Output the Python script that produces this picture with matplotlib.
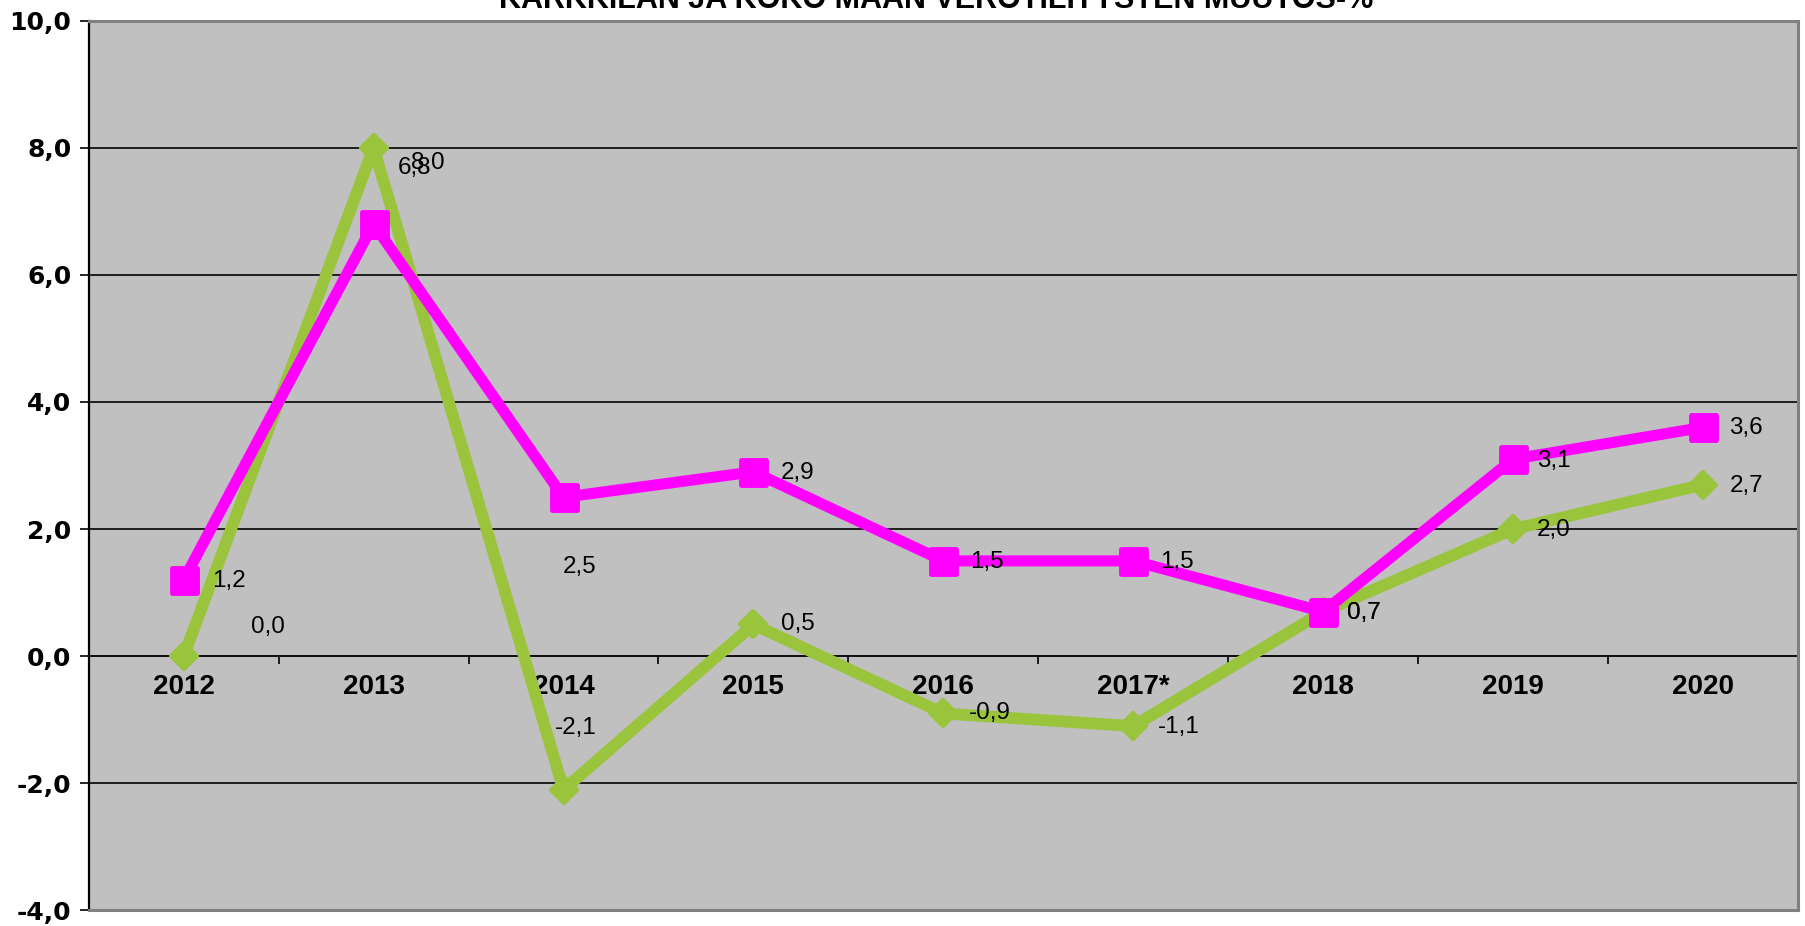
import matplotlib.pyplot as plt
from matplotlib.markers import MarkerStyle
from matplotlib.ticker import FixedLocator, FuncFormatter

years = ['2012', '2013', '2014', '2015', '2016', '2017*', '2018', '2019', '2020']
karkkila = [1.2, 6.8, 2.5, 2.9, 1.5, 1.5, 0.7, 3.1, 3.6]
koko_maa = [0.0, 8.0, -2.1, 0.5, -0.9, -1.1, 0.7, 2.0, 2.7]

title = 'KARKKILAN JA KOKO MAAN VEROTILITYSTEN MUUTOS-%'

# label offsets (pixels, right / down) as Excel placed them
off_karkkila = [(45, 1), (41, -56), (16, 70), (44, 1), (44, 1), (44, 1), (41, 1), (41, 2), (43, 1)]
off_koko = [(84, -29), (54, 15), (12, -62), (44, 0), (46, 0), (45, 1), (41, 1), (40, 1), (43, 1)]

MAGENTA = '#FF00FF'
GREEN = '#99C43C'
BG = '#C0C0C0'
FRAME = '#808080'


def fmt(v):
    return f'{v:.1f}'.replace('.', ',')


fig = plt.figure(figsize=(18.06, 9.26), dpi=100)
ax = fig.add_axes([0.0491, 0.01674, 0.9465, 0.9611])
ax.set_facecolor(BG)

x = list(range(len(years)))
ymin, ymax = -4, 10
ax.set_xlim(-0.5, len(years) - 0.5)
ax.set_ylim(ymin, ymax)

ax.yaxis.set_major_locator(FixedLocator(range(ymin, ymax + 1, 2)))
ax.yaxis.set_major_formatter(FuncFormatter(lambda v, p: fmt(v)))
ax.grid(axis='y', color='#111111', linewidth=1.3, zorder=0)
ax.set_axisbelow(True)
ax.tick_params(axis='y', direction='out', length=6.5, width=1.2, pad=6,
               labelsize=18, colors='black')
for lab in ax.get_yticklabels():
    lab.set_fontfamily('DejaVu Sans')
    lab.set_fontweight('bold')

ax.tick_params(axis='x', bottom=False, labelbottom=False)

for s in ['top', 'right', 'bottom']:
    ax.spines[s].set_color(FRAME)
    ax.spines[s].set_linewidth(2.2)
ax.spines['left'].set_color('black')
ax.spines['left'].set_linewidth(1.6)

# category axis sitting on y = 0
sec = ax.secondary_xaxis((0 - ymin) / (ymax - ymin))
sec.set_xticks(x)
sec.set_xticklabels(years)
sec.set_xticks([i + 0.5 for i in x[:-1]], minor=True)
sec.tick_params(which='major', length=0, pad=13, labelsize=20)
sec.tick_params(which='minor', direction='out', length=5.5, width=1.2, color='black')
sec.spines['bottom'].set_color('#111111')
sec.spines['bottom'].set_linewidth(1.3)
for lab in sec.get_xticklabels():
    lab.set_fontfamily('Liberation Sans')
    lab.set_fontweight('bold')

ax.plot(x, koko_maa, color=GREEN, linewidth=8.5, solid_joinstyle='round',
        marker=MarkerStyle('D', joinstyle='round'), markersize=13.5,
        markerfacecolor=GREEN, markeredgecolor=GREEN, markeredgewidth=3, zorder=3)
ax.plot(x, karkkila, color=MAGENTA, linewidth=8, solid_joinstyle='round',
        marker=MarkerStyle('s', joinstyle='round'), markersize=18,
        markerfacecolor=MAGENTA, markeredgecolor=MAGENTA, markeredgewidth=3.5, zorder=4)

for xi, v, (dx, dy) in zip(x, karkkila, off_karkkila):
    ax.annotate(fmt(v), (xi, v), xytext=(dx, -dy), textcoords='offset pixels',
                ha='center', va='center', fontsize=17.5, family='Liberation Sans',
                color='black', zorder=5)
for xi, v, (dx, dy) in zip(x, koko_maa, off_koko):
    ax.annotate(fmt(v), (xi, v), xytext=(dx, -dy), textcoords='offset pixels',
                ha='center', va='center', fontsize=17.5, family='Liberation Sans',
                color='black', zorder=5)

fig.text(0.5186, 0.991, title, ha='center', va='baseline', fontsize=22,
         fontweight='bold', family='Liberation Sans')

fig.savefig('out.png', dpi=100)
